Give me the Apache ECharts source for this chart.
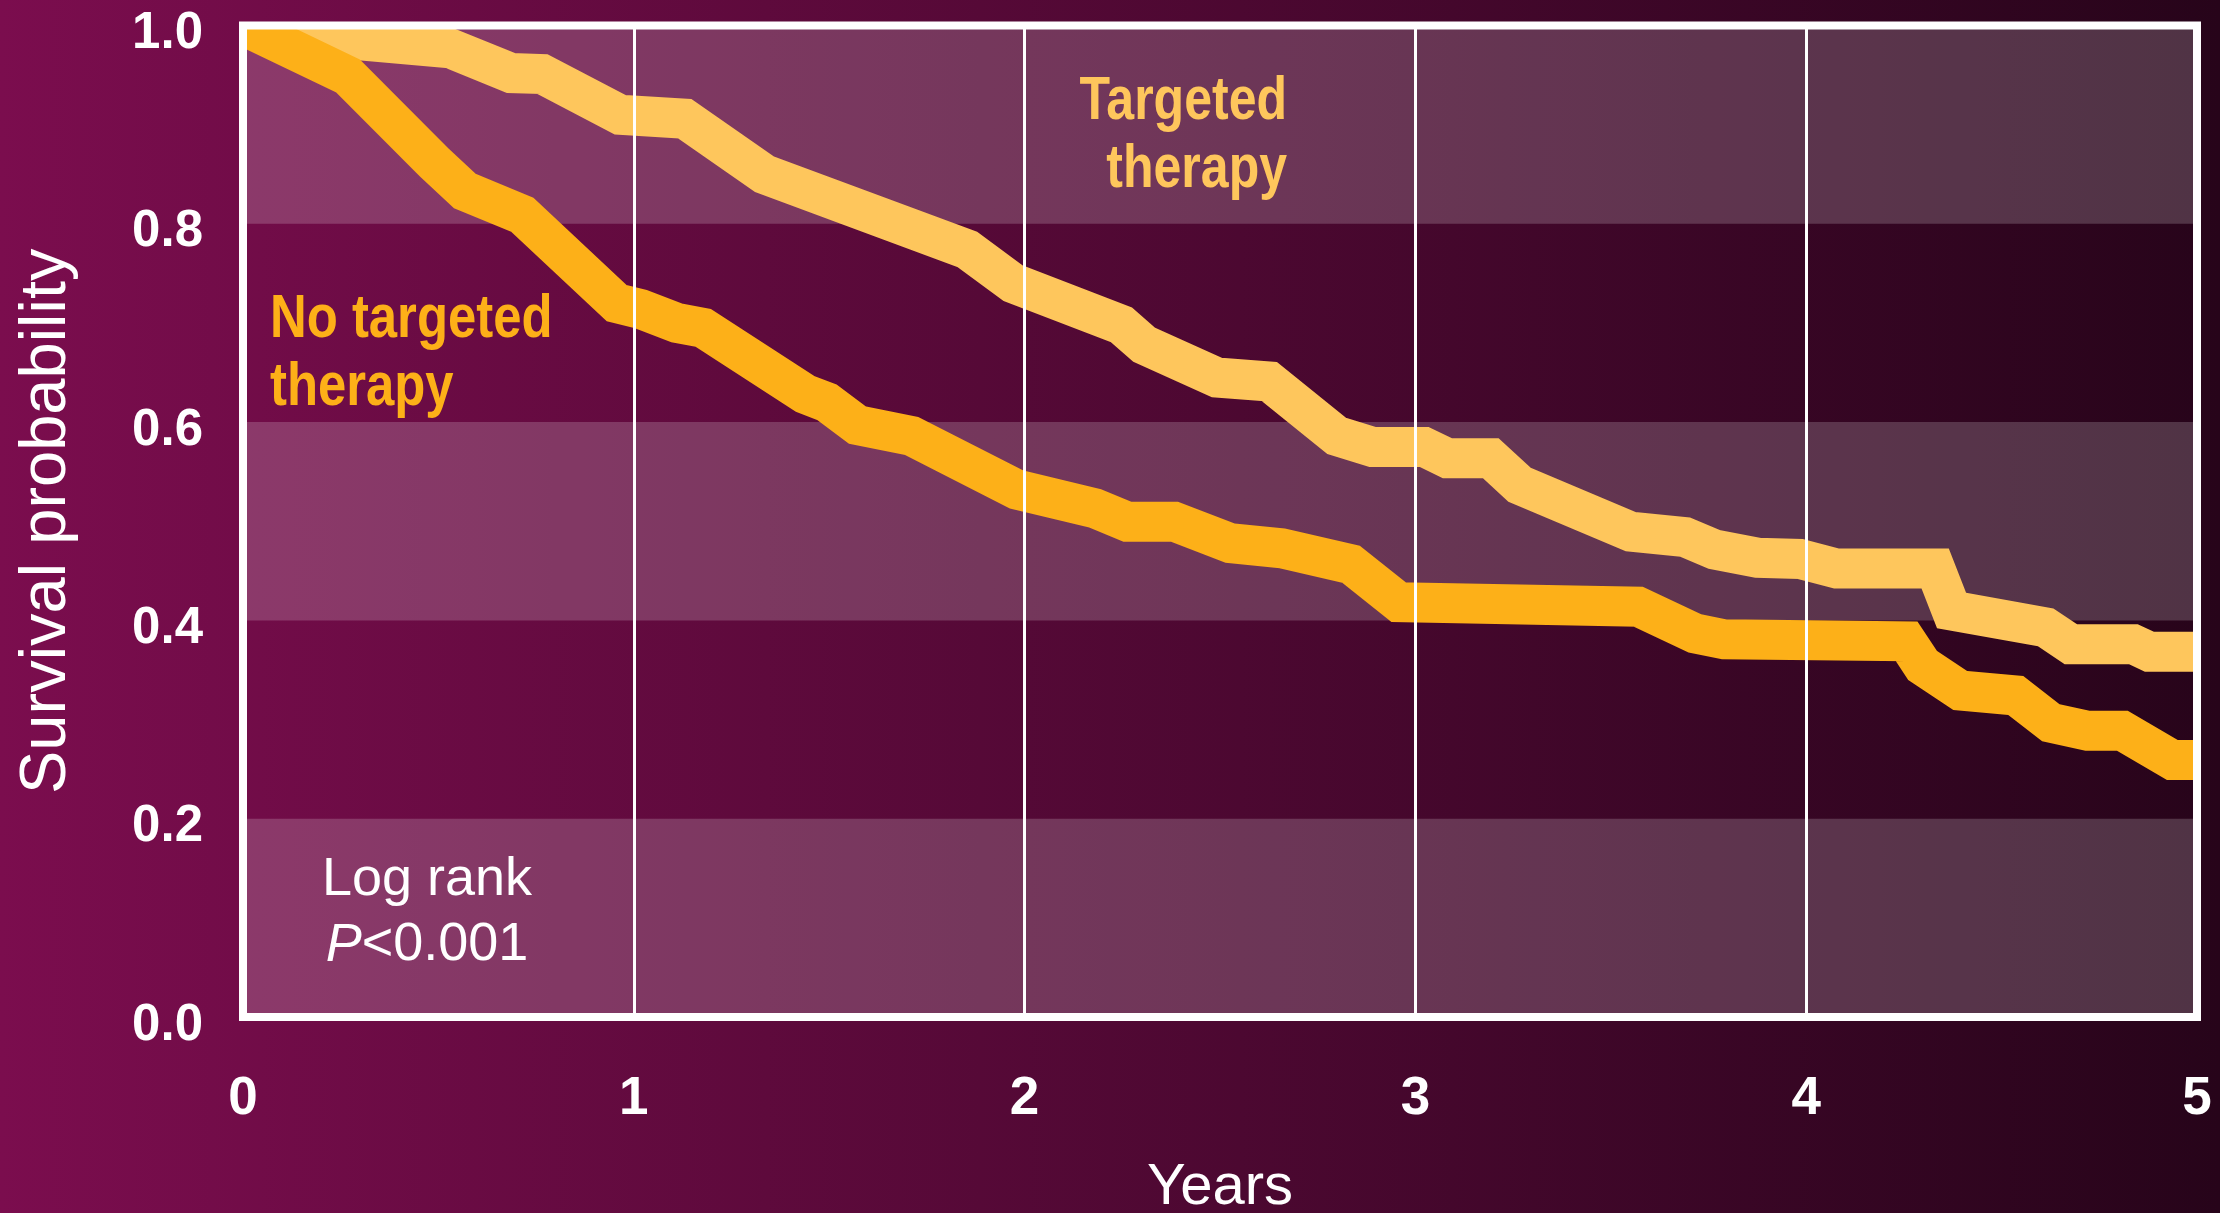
<!DOCTYPE html>
<html>
<head>
<meta charset="utf-8">
<script src="https://cdn.jsdelivr.net/npm/echarts@6/dist/echarts.min.js"></script>
<style>
  html, body { margin: 0; padding: 0; }
  #chart { width: 2220px; height: 1213px; background: linear-gradient(to right, #7b0d4e 0%, #27041a 100%); }
</style>
</head>
<body>
<div id="chart"></div>
<script>
// ---- Data ----
const xTicks = [0, 1, 2, 3, 4, 5];
const yTicks = [0.0, 0.2, 0.4, 0.6, 0.8, 1.0];

// Targeted therapy (light curve)
const yearsTargeted = [0, 0.30, 0.530, 0.686, 0.766, 0.965, 1.130, 1.334, 1.854, 1.971, 2.248, 2.306, 2.492, 2.626, 2.799, 2.890, 3.022, 3.082, 3.193, 3.266, 3.551, 3.690, 3.765, 3.875, 3.984, 4.078, 4.330, 4.372, 4.613, 4.677, 4.837, 4.878, 5.0];
const survTargeted  = [1.0, 0.985, 0.977, 0.952, 0.951, 0.910, 0.906, 0.850, 0.774, 0.740, 0.698, 0.678, 0.645, 0.641, 0.586, 0.575, 0.575, 0.5635, 0.5635, 0.537, 0.4895, 0.484, 0.4715, 0.4632, 0.462, 0.4523, 0.4523, 0.410, 0.393, 0.376, 0.376, 0.3685, 0.3685];

// No targeted therapy (orange curve)
const yearsNone = [0, 0.269, 0.489, 0.568, 0.715, 0.956, 1.018, 1.110, 1.178, 1.438, 1.494, 1.572, 1.711, 1.980, 2.180, 2.263, 2.383, 2.526, 2.658, 2.835, 2.957, 3.570, 3.715, 3.790, 4.257, 4.298, 4.394, 4.536, 4.626, 4.720, 4.809, 4.937, 5.0];
const survNone  = [1.0, 0.949, 0.862, 0.833, 0.809, 0.720, 0.714, 0.700, 0.695, 0.6285, 0.620, 0.597, 0.586, 0.532, 0.513, 0.4996, 0.4996, 0.478, 0.4727, 0.4567, 0.4184, 0.4138, 0.387, 0.381, 0.3789, 0.3545, 0.3293, 0.3243, 0.2968, 0.2887, 0.2887, 0.2592, 0.2592];

const labelTargeted = 'Targeted\ntherapy';
const labelNone = 'No targeted\ntherapy';
const xName = 'Years';
const yName = 'Survival probability';

// ---- Styling ----
const COLOR_TARGETED = '#FEC65C';
const COLOR_NONE = '#FDB018';
const SANS = '"Liberation Sans", Arial, Helvetica, sans-serif';
const NARROW_SCALE = 0.82;

function curveSeries(name, xs, ys, color) {
  const data = xs.map((x, i) => [x, ys[i]]);
  return {
    type: 'custom',
    name: name,
    data: data,
    clip: true,
    z: 2,
    silent: true,
    encode: { x: 0, y: 1 },
    renderItem: function (params, api) {
      if (params.dataIndex !== 0) return null;
      const pts = data.map(d => api.coord(d));
      return {
        type: 'polyline',
        shape: { points: pts },
        style: { stroke: color, lineWidth: 40, fill: null, lineJoin: 'miter', miterLimit: 10, lineCap: 'butt' }
      };
    }
  };
}

const chart = echarts.init(document.getElementById('chart'), null, { renderer: 'canvas' });
chart.setOption({
  animation: false,
  backgroundColor: 'transparent',
  grid: {
    left: 243, top: 25.5, width: 1954, height: 991.5,
    containLabel: false,
    outerBoundsMode: 'none',
    show: true,
    backgroundColor: 'transparent',
    borderColor: '#ffffff',
    borderWidth: 8,
    z: 10
  },
  xAxis: {
    type: 'value',
    min: xTicks[0], max: xTicks[xTicks.length - 1], interval: 1,
    z: 10,
    axisLine: { show: false },
    axisTick: { show: false },
    splitLine: { show: true, lineStyle: { color: '#ffffff', width: 3 } },
    axisLabel: { color: '#ffffff', fontSize: 53, fontWeight: 'bold', fontFamily: SANS, margin: 56 },
    name: xName,
    nameLocation: 'middle',
    nameGap: 142,
    nameTextStyle: { color: '#ffffff', fontSize: 58, fontFamily: SANS }
  },
  yAxis: {
    type: 'value',
    min: yTicks[0], max: yTicks[yTicks.length - 1], interval: 0.2,
    axisLine: { show: false },
    axisTick: { show: false },
    splitLine: { show: false },
    splitArea: { show: true, areaStyle: { color: ['rgba(255,255,255,0.19)', 'rgba(255,255,255,0)'] } },
    axisLabel: {
      color: '#ffffff', fontSize: 51, fontWeight: 'bold', fontFamily: SANS, margin: 40,
      lineHeight: 17,
      formatter: v => '\n' + v.toFixed(1)
    },
    name: yName,
    nameLocation: 'middle',
    nameGap: 163,
    nameTextStyle: { color: '#ffffff', fontSize: 65, fontFamily: SANS }
  },
  series: [
    curveSeries('Targeted therapy', yearsTargeted, survTargeted, COLOR_TARGETED),
    curveSeries('No targeted therapy', yearsNone, survNone, COLOR_NONE)
  ],
  graphic: [
    {
      type: 'text', x: 1287, y: 68, z: 20, silent: true,
      scaleX: NARROW_SCALE, scaleY: 1,
      style: {
        text: labelTargeted, fill: COLOR_TARGETED,
        fontSize: 61, fontWeight: 'bold', fontFamily: SANS, lineHeight: 68,
        align: 'right', textAlign: 'right', verticalAlign: 'top', textVerticalAlign: 'top'
      }
    },
    {
      type: 'text', x: 270, y: 286, z: 20, silent: true,
      scaleX: NARROW_SCALE, scaleY: 1,
      style: {
        text: labelNone, fill: COLOR_NONE,
        fontSize: 62, fontWeight: 'bold', fontFamily: SANS, lineHeight: 68,
        align: 'left', textAlign: 'left', verticalAlign: 'top', textVerticalAlign: 'top'
      }
    },
    {
      type: 'text', x: 427, y: 848, z: 20, silent: true,
      style: {
        text: '{n|Log rank}\n{i|P}{n|<0.001}',
        fill: '#ffffff',
        fontSize: 54, fontFamily: SANS, lineHeight: 65,
        align: 'center', textAlign: 'center', verticalAlign: 'top', textVerticalAlign: 'top',
        rich: {
          n: { fontSize: 54, fontFamily: SANS, fontStyle: 'normal', fill: '#ffffff', lineHeight: 65 },
          i: { fontSize: 54, fontFamily: SANS, fontStyle: 'italic', fill: '#ffffff', lineHeight: 65 }
        }
      }
    }
  ]
});
</script>
</body>
</html>
